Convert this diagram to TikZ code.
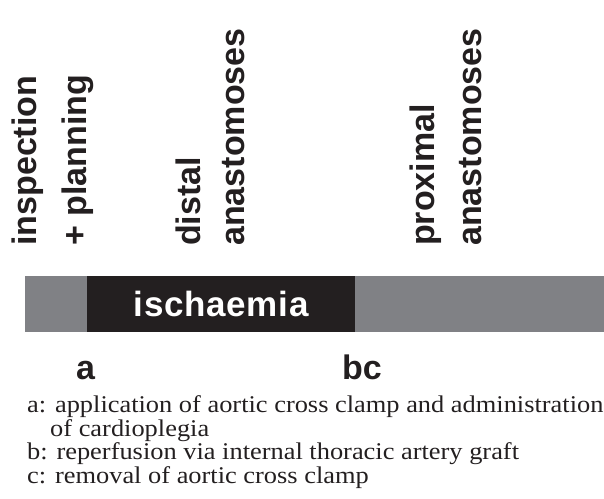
\documentclass[tikz,border=0pt]{standalone}
\usepackage{fontspec}
\setmainfont{Liberation Serif}
\setsansfont{Liberation Sans}
\newfontfamily\notefont[FakeStretch=1.1]{Liberation Serif}
\usetikzlibrary{positioning}
\definecolor{barGray}{RGB}{128,129,133}
\definecolor{barBlack}{RGB}{35,31,32}

\begin{document}
\begin{tikzpicture}[
  x=1pt,y=-1pt,
  phase/.style={rotate=90,anchor=base west,inner sep=0pt,text=barBlack,
    font=\sffamily\bfseries\fontsize{34}{34}\selectfont},
  seg/.style={anchor=north west,inner sep=0pt,minimum height=56pt},
  event/.style={anchor=base west,inner sep=0pt,text=barBlack,
    font=\sffamily\bfseries\fontsize{34}{34}\selectfont},
  note/.style={anchor=base west,inner sep=0pt,text=barBlack,
    font=\notefont\fontsize{24}{24}\selectfont}
]
  \useasboundingbox (0,0) rectangle (604,498);

  % phases above the bar
  \node[phase] (inspect) at (36,246) {inspection};
  \node[phase] (plan) at (86,246) {+ planning};
  \node[phase] (distal) at (200,246) {distal};
  \node[phase] (distAna) at (244,246) {anastomoses};
  \node[phase] (prox) at (434,246) {proximal};
  \node[phase] (proxAna) at (481,246) {anastomoses};

  % time bar
  \node[seg,fill=barGray,minimum width=579pt] (bar) at (25,276) {};
  \node[seg,fill=barBlack,minimum width=268pt,text=white,
    font=\sffamily\bfseries\fontsize{35}{35}\selectfont\addfontfeature{LetterSpace=2}]
    (isch) at (87,276) {ischaemia};

  % events
  \node[event] (evA) at (76,379) {a};
  \node[event] (evBC) at (342,379) {bc};

  % legend
  \node[note] (noteA) at (27,412) {a: application of aortic cross clamp and administration};
  \node[note] (noteA2) at (50,436) {of cardioplegia};
  \node[note] (noteB) at (27,459) {b: reperfusion via internal thoracic artery graft};
  \node[note] (noteC) at (27,483) {c: removal of aortic cross clamp};
\end{tikzpicture}
\end{document}
